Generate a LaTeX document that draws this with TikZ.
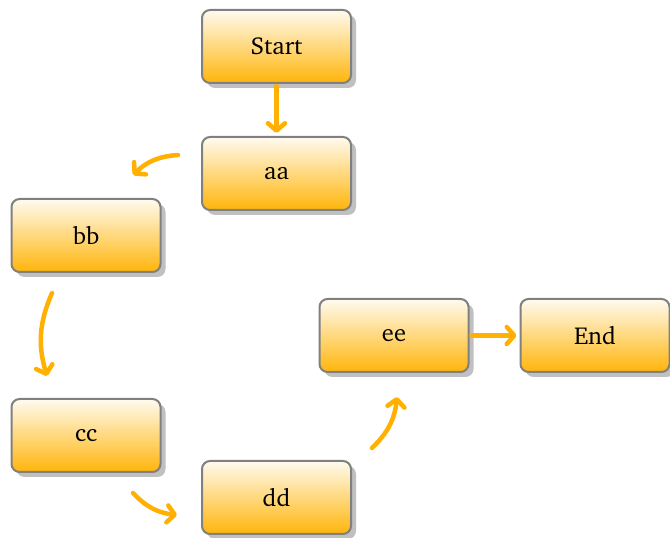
\documentclass[tikz,border=0pt]{standalone}
\usepackage[T1]{fontenc}
\usepackage{charter}
\usetikzlibrary{arrows.meta,shadows}
\definecolor{arrcol}{RGB}{255,176,0}
\definecolor{boxtop}{RGB}{255,251,240}
\definecolor{boxbot}{RGB}{255,181,10}
\definecolor{boxline}{RGB}{128,128,128}
\definecolor{shad}{RGB}{192,192,192}
\tikzset{
  box/.style={rounded corners=8pt, minimum width=149pt, minimum height=73pt,
    draw=boxline, line width=2pt, top color=boxtop, bottom color=boxbot,
    drop shadow={shadow xshift=5pt, shadow yshift=-5pt, fill=shad, opacity=1},
    font=\fontsize{24.5}{29}\selectfont, inner sep=0pt},
  link/.style={draw=arrcol, line width=4.5pt, line cap=round,
    -{Straight Barb[length=7.5pt,width=17pt,line cap=round,line join=round]}},
}
\begin{document}
\begin{tikzpicture}[x=1pt,y=1pt]
\useasboundingbox (0,0) rectangle (670,538);
\node[box] (start) at (276.5,491.5) {Start};
\node[box] (aa) at (276.5,364.5) {aa};
\node[box] (bb) at (86,302.5) {bb};
\node[box] (cc) at (86,102.5) {cc};
\node[box] (dd) at (276.5,40.5) {dd};
\node[box] (ee) at (394,202.5) {ee};
\node[box] (end) at (595,202.5) {End};
\coordinate (ab1) at (178,383);
\coordinate (ab2) at (133,363);
\coordinate (bc1) at (52,245);
\coordinate (bc2) at (47,162);
\coordinate (cd1) at (133,45);
\coordinate (cd2) at (177,23);
\coordinate (de1) at (372,90);
\coordinate (de2) at (397,141);
\draw[link, shorten <=2pt, shorten >=3pt] (start) -- (aa);
\draw[link] (ab1) to[bend right=20] (ab2);
\draw[link] (bc1) to[bend right=20] (bc2);
\draw[link] (cd1) to[bend right=20] (cd2);
\draw[link] (de1) to[bend right=20] (de2);
\draw[link, shorten <=2pt, shorten >=3pt] (ee) -- (end);
\end{tikzpicture}
\end{document}
